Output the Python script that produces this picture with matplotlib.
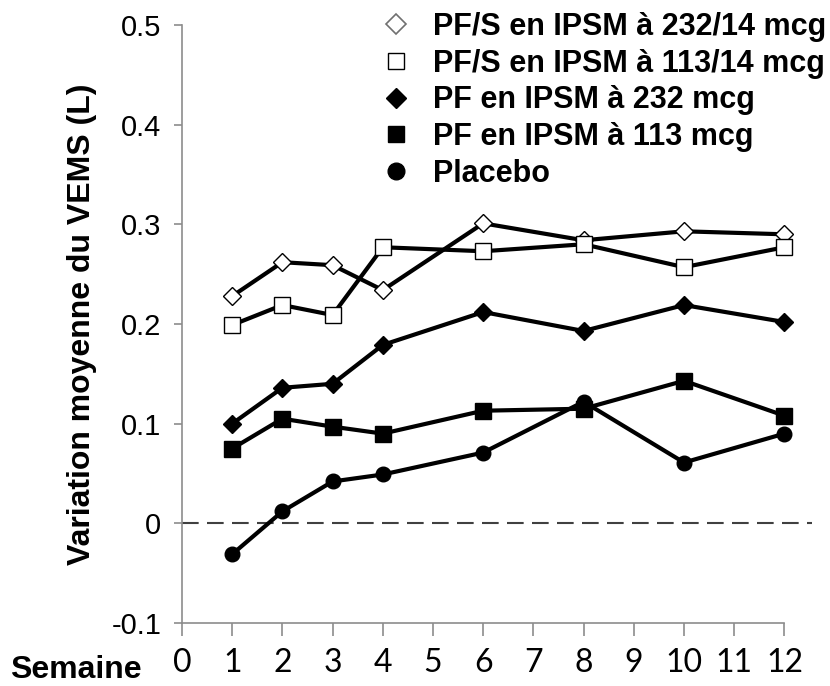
import matplotlib
matplotlib.use("Agg")
import matplotlib.pyplot as plt
from matplotlib.lines import Line2D

# semaines de mesure
weeks = [1, 2, 3, 4, 6, 8, 10, 12]

# variation moyenne du VEMS (L)
pfs_232 = [0.228, 0.262, 0.259, 0.234, 0.301, 0.284, 0.293, 0.290]
pfs_113 = [0.199, 0.219, 0.209, 0.277, 0.273, 0.280, 0.257, 0.277]
pf_232 = [0.100, 0.136, 0.140, 0.179, 0.212, 0.193, 0.219, 0.202]
pf_113 = [0.075, 0.105, 0.097, 0.090, 0.113, 0.115, 0.143, 0.108]
placebo = [-0.031, 0.012, 0.042, 0.049, 0.071, 0.122, 0.061, 0.090]

labels = ["PF/S en IPSM à 232/14 mcg", "PF/S en IPSM à 113/14 mcg",
          "PF en IPSM à 232 mcg", "PF en IPSM à 113 mcg", "Placebo"]
x_ticks = list(range(0, 13))
y_ticks = [-0.1, 0, 0.1, 0.2, 0.3, 0.4, 0.5]
y_ticklabels = ["-0.1", "0", "0.1", "0.2", "0.3", "0.4", "0.5"]

plt.rcParams['font.family'] = ['Liberation Sans', 'DejaVu Sans']

fig = plt.figure(figsize=(8.3, 6.86), dpi=100)
ax = fig.add_axes([182/830, 1-623/686, (812-182)/830, (623-25)/686])

ax.axhline(0, color='#404040', lw=1.5, dashes=(8, 4), zorder=1)

series = [
    (pfs_232, dict(marker='D', ms=9.5, mfc='white', mec='black', mew=1.0)),
    (pfs_113, dict(marker='s', ms=11, mfc='white', mec='black', mew=1.0)),
    (pf_232, dict(marker='D', ms=9.5, mfc='black', mec='black')),
    (pf_113, dict(marker='s', ms=11, mfc='black', mec='black')),
    (placebo, dict(marker='o', ms=10.5, mfc='black', mec='black')),
]
for vals, st in series:
    ax.plot(weeks, vals, color='black', lw=3, zorder=3, **st)

ax.set_xlim(0, 12.55)
ax.set_ylim(-0.1, 0.5)
ax.set_xticks(x_ticks)
ax.set_xticklabels([str(i) for i in x_ticks], family=['Lato', 'DejaVu Sans'], fontsize=23)
ax.set_yticks(y_ticks)
ax.set_yticklabels(y_ticklabels, fontsize=21)

for s in ['top', 'right']:
    ax.spines[s].set_visible(False)
for s in ['left', 'bottom']:
    ax.spines[s].set_color('#8c8c8c')
    ax.spines[s].set_linewidth(1.2)
ax.spines['bottom'].set_bounds(0, 12)
ax.tick_params(axis='y', direction='out', length=6, width=1.2, color='#8c8c8c', pad=9)
ax.tick_params(axis='x', direction='out', length=9, width=1.2, color='#8c8c8c', pad=9)

ax.set_ylabel("Variation moyenne du VEMS (L)", fontsize=23, fontweight='bold')
ax.yaxis.set_label_coords(-0.135, 0.5)

fig.text(10/830, 1-678/686, "Semaine", fontsize=23, fontweight='bold', va='baseline', ha='left')

handles = [
    Line2D([], [], ls='none', marker='D', ms=10, mfc='white', mec='#707070', mew=1.2),
    Line2D([], [], ls='none', marker='s', ms=12, mfc='white', mec='black', mew=1.0),
    Line2D([], [], ls='none', marker='D', ms=10, mfc='black', mec='black'),
    Line2D([], [], ls='none', marker='s', ms=12, mfc='black', mec='black'),
    Line2D([], [], ls='none', marker='o', ms=12, mfc='black', mec='black'),
]
leg = fig.legend(handles, labels, loc='upper left', bbox_to_anchor=(378/830, 1-12/686),
                 frameon=False, prop={'size': 22, 'weight': 'bold'},
                 borderpad=0, borderaxespad=0, labelspacing=0.22,
                 handlelength=1.2, handletextpad=0.6)

fig.savefig("out.png", dpi=100)
